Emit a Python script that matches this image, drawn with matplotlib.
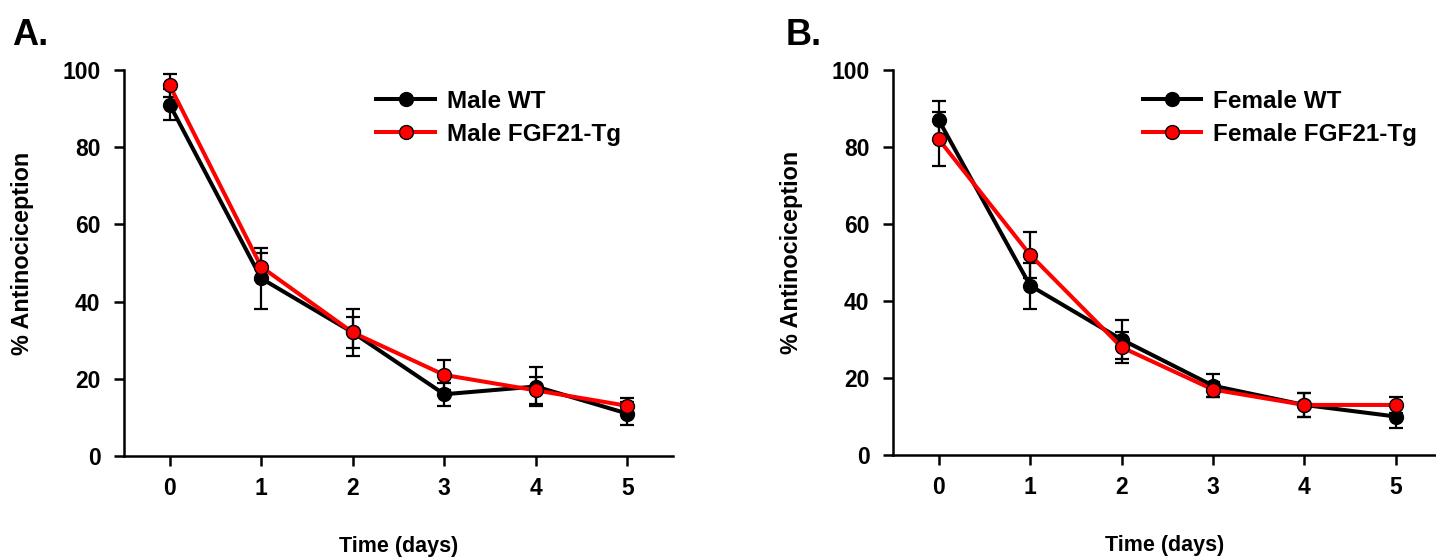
import numpy as np
import matplotlib

matplotlib.use("Agg")
import matplotlib.pyplot as plt

plt.rcParams["font.family"] = ["Liberation Sans", "DejaVu Sans"]
plt.rcParams["font.weight"] = "bold"

days = [0, 1, 2, 3, 4, 5]

male_wt = [91, 46, 32, 16, 18, 11]
male_wt_err = [4, 8, 6, 3, 5, 3]
male_tg = [96, 49, 32, 21, 17, 13]
male_tg_err = [3, 3.5, 4, 4, 3.5, 2]

female_wt = [87, 44, 30, 18, 13, 10]
female_wt_err = [5, 6, 5, 3, 3, 3]
female_tg = [82, 52, 28, 17, 13, 13]
female_tg_err = [7, 6, 4, 2, 3, 2]

panels = [
    ("A.", "Male WT", "Male FGF21-Tg", male_wt, male_wt_err, male_tg, male_tg_err),
    ("B.", "Female WT", "Female FGF21-Tg", female_wt, female_wt_err, female_tg, female_tg_err),
]

fig = plt.figure(figsize=(14.36, 5.58), dpi=100)
# axes boxes in pixels: left, bottom-from-top, width, height
ax_px = [(124, 456, 549, 386), (893, 455, 543, 385)]
label_x = [12 / 1436, 786 / 1436]
xlims = [(-0.5, 5.5), (-0.5, 5.44)]

for (l, b, w, h), lx, xl, (tag, wt_name, tg_name, wt, wt_err, tg, tg_err) in zip(
    ax_px, label_x, xlims, panels
):
    ax = fig.add_axes([l / 1436, 1 - b / 558, w / 1436, h / 558])
    ax.errorbar(days, wt, yerr=wt_err, fmt="none", ecolor="black",
                elinewidth=1.6, capsize=5, capthick=1.6, zorder=2)
    ax.errorbar(days, tg, yerr=tg_err, fmt="none", ecolor="black",
                elinewidth=1.6, capsize=5, capthick=1.6, zorder=2)
    ax.plot(days, wt, color="black", lw=2.9, marker="o", ms=10,
            mfc="black", mec="black", mew=1, label=wt_name, zorder=3)
    ax.plot(days, tg, color="#ff0000", lw=2.9, marker="o", ms=10,
            mfc="#ff0000", mec="black", mew=1, label=tg_name, zorder=4)

    ax.set_xlim(*xl)
    ax.set_ylim(0, 100)
    ax.set_xticks(days)
    ax.set_yticks([0, 20, 40, 60, 80, 100])
    ax.tick_params(axis="both", direction="out", length=7, width=1.8,
                   labelsize=16.5)
    ax.tick_params(axis="y", pad=10)
    ax.tick_params(axis="x", pad=8)
    for lab in ax.get_xticklabels() + ax.get_yticklabels():
        lab.set_fontweight("bold")
    ax.spines["top"].set_visible(False)
    ax.spines["right"].set_visible(False)
    ax.spines["left"].set_linewidth(1.8)
    ax.spines["bottom"].set_linewidth(1.8)

    ax.set_ylabel("% Antinociception", fontsize=16.8, fontweight="bold")
    ax.yaxis.set_label_coords(-90 / w, 0.525)
    ax.set_xlabel("Time (days)", fontsize=15.5, fontweight="bold")
    ax.xaxis.set_label_coords(0.5, -0.207)

    ax.legend(loc="upper left", bbox_to_anchor=(0.42, 1.005), frameon=False,
              handlelength=2.4, handletextpad=0.5,
              labelspacing=0.4, prop={"weight": "bold", "size": 17.5})

    fig.text(lx, 1 - 45 / 558, tag, fontsize=26, fontweight="bold",
             ha="left", va="baseline")

fig.savefig("out.png", dpi=100)
